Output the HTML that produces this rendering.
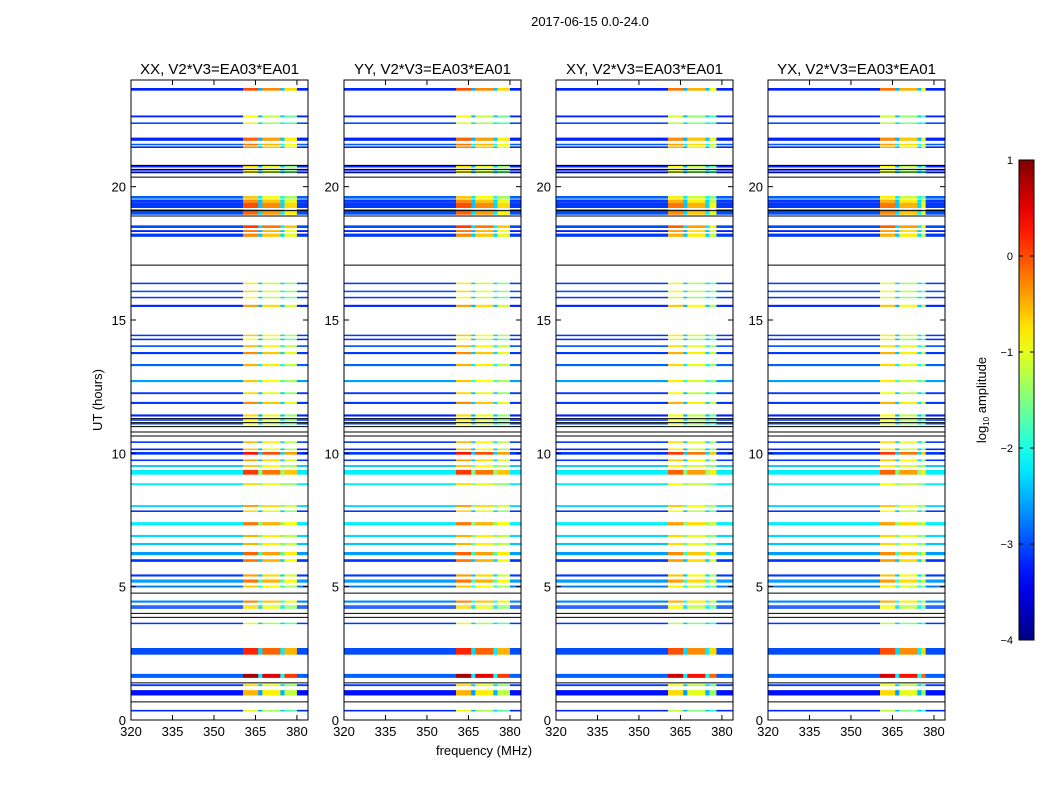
<!DOCTYPE html>
<html><head><meta charset="utf-8"><style>
body{margin:0;background:#fff;}
svg text{font-family:"Liberation Sans","DejaVu Sans",sans-serif;}
</style></head><body>
<svg id="chart" width="1050" height="800" viewBox="0 0 1050 800" xmlns="http://www.w3.org/2000/svg">
<rect width="1050" height="800" fill="#fff"/>
<text x="590" y="26" font-size="13" text-anchor="middle">2017-06-15 0.0-24.0</text>
<g id="panels"></g>
<text x="484" y="755" font-size="13" text-anchor="middle">frequency (MHz)</text>
<text transform="translate(102,400) rotate(-90)" font-size="13" text-anchor="middle">UT (hours)</text>
<g id="cbar"></g>
</svg>
<script>
// data
const panelNames = ["XX, V2*V3=EA03*EA01","YY, V2*V3=EA03*EA01","XY, V2*V3=EA03*EA01","YX, V2*V3=EA03*EA01"];
const panelBandEnd = [380, 380, 378, 377];
const panelHighOffset = [0, 0, -0.2, -0.2];
const xTicks = [320,335,350,365,380];
const yTicks = [0,5,10,15,20];
const cbarTicks = [1,0,-1,-2,-3,-4];
// rows: UT start (hours), duration (hours), low-band log amp, high-band log amp
const rowUT =   [23.6,22.6,22.35,21.72,21.55,21.45,20.72,20.6,20.5,18.95,19.2,19.4,19.55,18.45,18.3,18.12,16.35,16.05,15.82,15.49,14.4,14.25,13.99,13.72,13.27,12.67,12.22,11.85,11.38,11.22,11.08,10.39,10.12,9.95,9.71,9.49,9.2,8.81,7.99,7.8,7.3,6.86,6.56,6.18,5.93,5.38,5.15,4.97,4.4,4.25,4.18,3.6,2.45,1.58,1.27,0.92,0.32];
const rowDur =  [0.1,0.07,0.06,0.12,0.06,0.06,0.08,0.06,0.06,0.2,0.2,0.12,0.1,0.1,0.07,0.12,0.05,0.05,0.05,0.08,0.05,0.05,0.06,0.08,0.08,0.08,0.07,0.08,0.08,0.06,0.06,0.06,0.06,0.1,0.06,0.07,0.18,0.07,0.07,0.06,0.12,0.08,0.08,0.12,0.1,0.08,0.12,0.07,0.08,0.05,0.05,0.05,0.25,0.15,0.07,0.2,0.06];
const rowLow =  [-3.2,-3.2,-3.0,-3.2,-2.9,-3.2,-3.2,-3.3,-3.2,-3.0,-3.1,-3.1,-2.9,-3.0,-3.2,-3.1,-3.1,-3.0,-3.1,-3.2,-3.1,-3.2,-3.0,-3.1,-2.9,-2.6,-3.1,-3.1,-3.2,-3.1,-3.0,-3.1,-3.2,-3.1,-3.1,-2.4,-2.2,-2.2,-2.3,-3.1,-2.2,-2.3,-2.4,-2.6,-3.1,-3.1,-2.6,-2.8,-2.7,-3.0,-3.1,-3.1,-3.0,-2.9,-3.1,-3.3,-3.2];
const rowHigh = [-0.3,-1.2,-1.3,-0.4,-0.5,-0.6,-1.0,-1.1,-1.2,-0.4,-0.3,-0.6,-0.9,-0.2,-0.5,-0.6,-1.1,-1.0,-1.2,-0.7,-0.9,-1.2,-0.8,-0.6,-0.8,-0.9,-1.0,-0.6,-1.0,-1.1,-1.2,-0.8,-0.9,0.0,-0.7,-0.9,-0.2,-1.0,-0.7,-1.0,-0.5,-0.8,-0.8,-0.4,-0.5,-0.7,-0.5,-0.9,-0.6,-1.0,-1.0,-1.3,-0.1,0.5,-1.0,-0.8,-1.3];
// flagged (black) lines UT
const flagUT = [20.36,20.55,20.65,20.8,18.9,19.1,17.06,11.3,11.15,11.0,10.8,10.65,4.76,4.0,3.85,1.39,0.68];
</script>
<script>
const NS="http://www.w3.org/2000/svg";
const panelX=[131,344,556,768], pw=177, pTop=80, pBot=720;
const fMin=320, fMax=384, tMin=0, tMax=24;
function yScale(t){return pBot-(t-tMin)/(tMax-tMin)*(pBot-pTop);}
function jet(v){
  let t=Math.max(0,Math.min(1,(v+4)/5));
  const f=x=>Math.round(255*Math.max(0,Math.min(1,x)));
  return `rgb(${f(1.5-Math.abs(4*t-3))},${f(1.5-Math.abs(4*t-2))},${f(1.5-Math.abs(4*t-1))})`;
}
function mk(tag,attrs,parent){const e=document.createElementNS(NS,tag);for(const k in attrs)e.setAttribute(k,attrs[k]);parent.appendChild(e);return e;}
const pg=document.getElementById('panels');
panelNames.forEach((name,p)=>{
  const x0=panelX[p];
  const xScale=f=>x0+(f-fMin)/(fMax-fMin)*pw;
  const g=mk('g',{},pg);
  
  
  const bandEnd=panelBandEnd[p], ho=panelHighOffset[p];
  rowUT.forEach((ut,i)=>{
    const y1=yScale(ut+rowDur[i]), y2=yScale(ut);
    const h=Math.max(1.5,y2-y1);
    const L=rowLow[i], H=rowHigh[i]+ho;
    const segs=[[fMin,360.5,L],[360.5,366,H+0.3],[366,367.5,L+0.7],[367.5,374,H],[374,375.5,L+0.8],[375.5,bandEnd,H-0.4],[bandEnd,fMax,L]];
    segs.forEach(s=>{
      if(s[1]<=s[0])return;
      const r=mk('rect',{x:xScale(s[0]),y:y1,width:xScale(s[1])-xScale(s[0])+0.3,height:h,fill:jet(s[2])},g);
      
      
    });
  });
  flagUT.forEach(ut=>{
    const l=mk('line',{x1:x0,x2:x0+pw,y1:yScale(ut),y2:yScale(ut),stroke:'#000','stroke-width':1},g);
    
    
  });
  const fr=mk('rect',{x:x0,y:pTop,width:pw,height:pBot-pTop,fill:'none',stroke:'#000','stroke-width':1},g);
  
  
  const tt=mk('text',{x:x0+pw/2,y:74,'font-size':15,'text-anchor':'middle'},g);
  tt.textContent=name;
  
  
  xTicks.forEach(f=>{
    const x=xScale(f);
    mk('line',{x1:x,x2:x,y1:pBot,y2:pBot-5,stroke:'#000'},g);
    mk('line',{x1:x,x2:x,y1:pTop,y2:pTop+5,stroke:'#000'},g);
    const t=mk('text',{x:x,y:pBot+16,'font-size':13,'text-anchor':'middle'},g);
    t.textContent=f;
    
    
  });
  yTicks.forEach(v=>{
    const y=yScale(v);
    mk('line',{x1:x0,x2:x0+5,y1:y,y2:y,stroke:'#000'},g);
    mk('line',{x1:x0+pw,x2:x0+pw-5,y1:y,y2:y,stroke:'#000'},g);
    const t=mk('text',{x:x0-5,y:y+5,'font-size':13,'text-anchor':'end'},g);
    t.textContent=v;
    
    
  });
});
// colorbar
const cb=document.getElementById('cbar');
const cx=1019,cw=15,ct=160,cbb=640;
const cScale=v=>cbb-(v+4)/5*(cbb-ct);
const defs=mk('defs',{},cb);
const grad=mk('linearGradient',{id:'jetg',x1:0,y1:1,x2:0,y2:0},defs);
for(let i=0;i<=20;i++){mk('stop',{offset:i/20,'stop-color':jet(-4+5*i/20)},grad);}
const cr=mk('rect',{x:cx,y:ct,width:cw,height:cbb-ct,fill:'url(#jetg)',stroke:'#000'},cb);


cbarTicks.forEach(v=>{
  const y=cScale(v);
  mk('line',{x1:cx,x2:cx+4,y1:y,y2:y,stroke:'#000'},cb);
  mk('line',{x1:cx+cw,x2:cx+cw-4,y1:y,y2:y,stroke:'#000'},cb);
  const t=mk('text',{x:1013,y:y+4,'font-size':11,'text-anchor':'end'},cb);
  t.textContent=v<0?'\u2212'+(-v):v;
  
  
});
const cl=mk('text',{transform:'translate(986,400) rotate(-90)','font-size':13,'text-anchor':'middle'},cb);
cl.innerHTML='log<tspan font-size="8" dy="3">10</tspan><tspan dy="-3"> amplitude</tspan>';


</script>
</body></html>
